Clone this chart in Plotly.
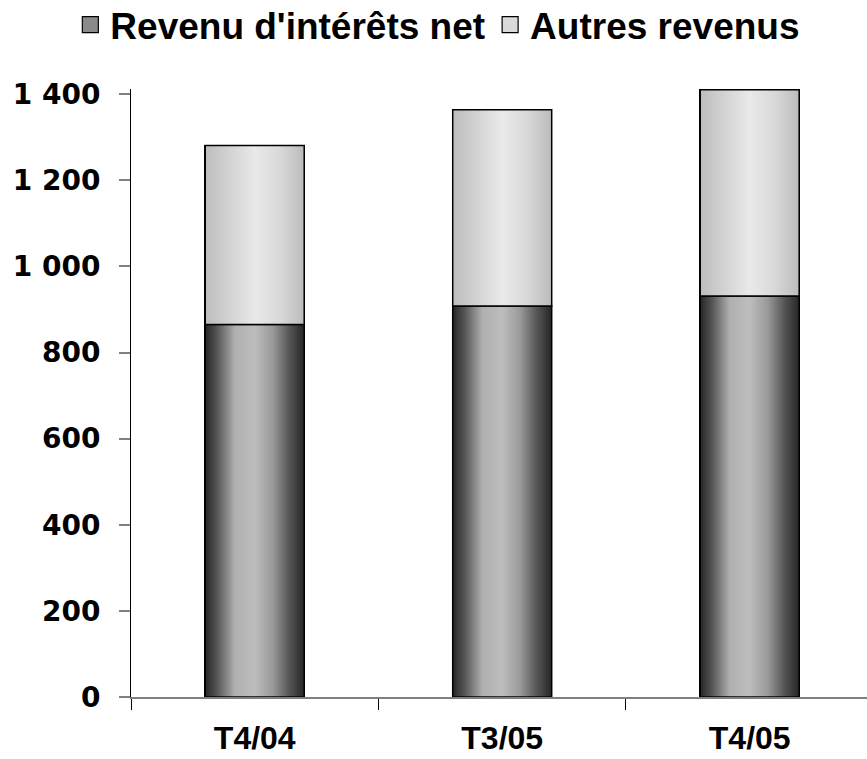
import plotly.graph_objects as go

# ---- data ----
categories = ["T4/04", "T3/05", "T4/05"]
revenu_interets_net = [865, 908, 931]
autres_revenus = [416, 456, 479]
series_names = ["Revenu d'intérêts net", "Autres revenus"]
y_tick_values = [0, 200, 400, 600, 800, 1000, 1200, 1400]
y_tick_labels = ["0", "200", "400", "600", "800", "1 000", "1 200", "1 400"]

# ---- style ----
FONT = "Liberation Sans, Arial, sans-serif"
TICK_FONT = "DejaVu Sans, Liberation Sans, sans-serif"
BAR_W = 0.4
X_RANGE = [-0.5, 2.474]
Y_RANGE = [0, 1412]
dark_scale = [[0, "#262626"], [0.12, "#555555"], [0.3, "#b0b0b0"], [0.5, "#bdbdbd"],
              [0.68, "#9a9a9a"], [0.85, "#555555"], [1, "#262626"]]
light_scale = [[0, "#bdbdbd"], [0.25, "#d3d3d3"], [0.5, "#e9e9e9"], [0.75, "#d9d9d9"],
               [1, "#bbbbbb"]]
legend_colors = ["#8a8a8a", "#dadada"]

fig = go.Figure()

# base bars on the categorical axis
fig.add_trace(go.Bar(x=categories, y=revenu_interets_net, name=series_names[0],
                     width=BAR_W, marker=dict(color=legend_colors[0], line=dict(color="black", width=1.5)),
                     hoverinfo="skip", showlegend=False))
fig.add_trace(go.Bar(x=categories, y=autres_revenus, name=series_names[1],
                     width=BAR_W, marker=dict(color=legend_colors[1], line=dict(color="black", width=1.5)),
                     hoverinfo="skip", showlegend=False))

# gradient overlays computed from the same data on an overlaid numeric axis
for i, (a, b) in enumerate(zip(revenu_interets_net, autres_revenus)):
    x0, x1 = i - BAR_W / 2, i + BAR_W / 2
    for base, val, scale in ((0, a, dark_scale), (a, b, light_scale)):
        top = base + val
        fig.add_trace(go.Scatter(
            x=[x0, x1, x1, x0, x0], y=[base, base, top, top, base],
            xaxis="x2", yaxis="y", mode="lines", fill="toself",
            fillgradient=dict(type="horizontal", colorscale=scale),
            line=dict(color="black", width=1.5), showlegend=False, hoverinfo="skip"))

# legend entries (square swatches)
for name, col in zip(series_names, legend_colors):
    fig.add_trace(go.Scatter(x=[None], y=[None], mode="markers", name=name,
                             xaxis="x2", yaxis="y",
                             marker=dict(symbol="square", size=18, color=col,
                                         line=dict(color="black", width=1.2))))

fig.update_layout(
    width=867, height=759,
    barmode="stack",
    paper_bgcolor="white", plot_bgcolor="white",
    margin=dict(l=131, r=0, t=89, b=62, autoexpand=False),
    font=dict(family=FONT, size=26, color="black", weight="bold"),
    showlegend=True,
    legend=dict(orientation="h", x=0.505, xanchor="center", xref="container",
                y=0.967, yanchor="middle", yref="container",
                font=dict(size=37, weight="bold"), itemsizing="trace",
                traceorder="normal", itemwidth=30),
    xaxis=dict(type="category", range=X_RANGE, tickson="boundaries", ticks="outside",
               ticklen=11, tickcolor="black", tickwidth=1,
               showline=True, linecolor="#808080", linewidth=2,
               showgrid=False, zeroline=False, automargin=False,
               tickfont=dict(size=32, weight="bold"), ticklabelstandoff=12),
    xaxis2=dict(overlaying="x", range=X_RANGE, visible=False, anchor="y"),
    yaxis=dict(range=Y_RANGE, tickvals=y_tick_values, ticktext=y_tick_labels,
               ticks="outside", ticklen=11, tickcolor="#808080", tickwidth=2,
               showline=True, linecolor="black", linewidth=1,
               showgrid=False, zeroline=False, automargin=False,
               tickfont=dict(family=TICK_FONT, size=28, weight="bold"),
               ticklabelstandoff=13),
)

fig.write_html("out.html", config={"displayModeBar": False},
               post_script="document.body.style.margin='0px';document.body.style.overflow='hidden';")
